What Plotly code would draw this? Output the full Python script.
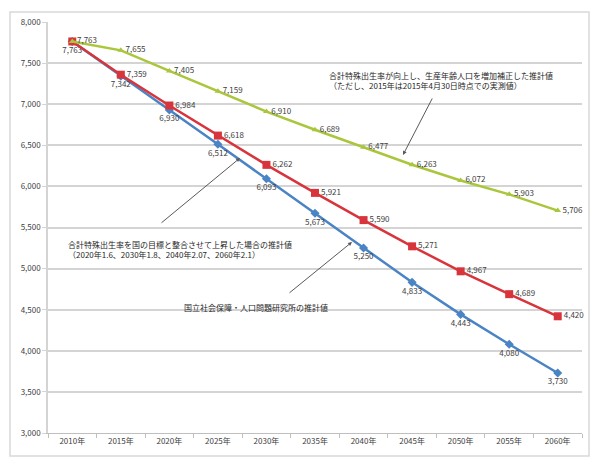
import plotly.graph_objects as go

years = ["2010年", "2015年", "2020年", "2025年", "2030年", "2035年",
         "2040年", "2045年", "2050年", "2055年", "2060年"]
green_vals = [7763, 7655, 7405, 7159, 6910, 6689, 6477, 6263, 6072, 5903, 5706]
red_vals = [7763, 7359, 6984, 6618, 6262, 5921, 5590, 5271, 4967, 4689, 4420]
blue_vals = [7763, 7342, 6930, 6512, 6093, 5673, 5250, 4833, 4443, 4080, 3730]
y_ticks = [3000, 3500, 4000, 4500, 5000, 5500, 6000, 6500, 7000, 7500, 8000]

note_green = ["合計特殊出生率が向上し、生産年齢人口を増加補正した推計値",
              "（ただし、2015年は2015年4月30日時点での実測値）"]
note_red = ["合計特殊出生率を国の目標と整合させて上昇した場合の推計値",
            "（2020年1.6、2030年1.8、2040年2.07、2060年2.1）"]
note_blue = ["国立社会保障・人口問題研究所の推計値"]

FONT = "Noto Sans CJK JP"
GREEN = "#A9C63C"
RED = "#D8343C"
BLUE = "#4A84C4"

def fmt(vals, skip_first=False):
    out = [f"{v:,}" for v in vals]
    if skip_first:
        out[0] = ""
    return out

fig = go.Figure()
fig.add_trace(go.Scatter(
    x=years, y=blue_vals, mode="lines+markers+text",
    line=dict(color=BLUE, width=2.5),
    marker=dict(symbol="diamond", size=7, color=BLUE),
    text=fmt(blue_vals), textposition="bottom center",
    textfont=dict(size=8, color="#404040", family=FONT),
    cliponaxis=False, showlegend=False))
fig.add_trace(go.Scatter(
    x=years, y=red_vals, mode="lines+markers+text",
    line=dict(color=RED, width=2.5),
    marker=dict(symbol="square", size=8, color=RED),
    text=fmt(red_vals, skip_first=True), textposition="middle right",
    textfont=dict(size=8, color="#404040", family=FONT),
    cliponaxis=False, showlegend=False))
fig.add_trace(go.Scatter(
    x=years, y=green_vals, mode="lines+markers+text",
    line=dict(color=GREEN, width=2.5),
    marker=dict(symbol="triangle-up", size=6, color=GREEN),
    text=fmt(green_vals), textposition="middle right",
    textfont=dict(size=8, color="#404040", family=FONT),
    cliponaxis=False, showlegend=False))

L, T, B, R = 48, 22, 24, 8
W, H = 590, 457
PW, PH = W - L - R, H - T - B

def px(x):
    return (x - L) / PW

def py(y):
    return (H - B - y) / PH

anns = []
def add_text(lines, x, y):
    anns.append(dict(text="<br>".join(lines), x=px(x), y=py(y), xref="paper", yref="paper",
                     xanchor="left", yanchor="top", showarrow=False, align="left",
                     font=dict(size=8, color="#262626", family=FONT)))

def add_arrow(tail, tip):
    anns.append(dict(text="", x=px(tip[0]), y=py(tip[1]), xref="paper", yref="paper",
                     ax=tail[0] - tip[0], ay=tail[1] - tip[1], showarrow=True,
                     arrowhead=2, arrowsize=0.8, arrowwidth=1, arrowcolor="#595959",
                     standoff=0, startstandoff=0))

add_text(note_green, 327, 68)
add_text(note_red, 66, 237)
add_text(note_blue, 182, 300)
add_arrow((433, 97), (403, 155))
add_arrow((160, 224), (240, 158))
add_arrow((288, 294), (352, 242))

fig.update_layout(
    width=W, height=H,
    margin=dict(l=L, r=R, t=T, b=B),
    paper_bgcolor="white", plot_bgcolor="white",
    font=dict(family=FONT, size=8, color="#595959"),
    annotations=anns,
    shapes=[dict(type="rect", xref="paper", yref="paper",
                 x0=px(10), x1=px(589), y0=py(456), y1=py(12),
                 line=dict(color="#d9d9d9", width=1.5), layer="below")],
)
fig.update_xaxes(type="category", range=[-0.5, len(years) - 0.5],
                 showgrid=False, showline=True, linecolor="#bfbfbf", linewidth=1,
                 ticks="outside", ticklen=4, tickcolor="#bfbfbf", tickson="boundaries",
                 tickfont=dict(size=8, color="#404040", family=FONT))
fig.update_yaxes(range=[3000, 8000], tickvals=y_ticks,
                 ticktext=[f"{v:,}" for v in y_ticks],
                 showgrid=True, gridcolor="#d4d4d4", gridwidth=1.5,
                 showline=True, linecolor="#d4d4d4", linewidth=1.5,
                 ticks="outside", ticklen=4, tickcolor="#d4d4d4",
                 zeroline=False,
                 tickfont=dict(size=8, color="#404040", family=FONT))

fig.write_html("out.html")
